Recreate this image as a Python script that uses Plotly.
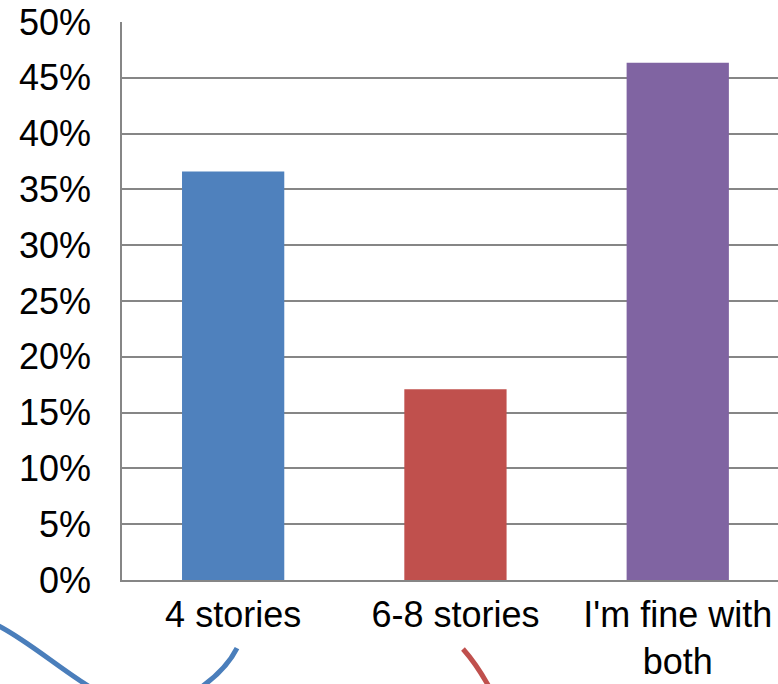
import plotly.graph_objects as go

categories = ["4 stories", "6-8 stories", "I'm fine with<br>both"]
values = [0.366, 0.171, 0.4635]
colors = ["#4F81BD", "#C0504D", "#8064A2"]

W, H = 778, 684
L, R, T, B = 122, 0, 22, 104

fig = go.Figure(go.Bar(x=categories, y=values, marker=dict(color=colors, line=dict(width=0)), width=0.46))

def px2paper(x, y):
    return (x - L) / (W - L - R), (H - B - y) / (H - T - B)

def path(segs):
    out = []
    for c, pts in segs:
        coords = []
        for (x, y) in pts:
            px, py = px2paper(x, y)
            coords.append(f"{px:.4f},{py:.4f}")
        out.append(c + " " + " ".join(coords))
    return " ".join(out)

blue = path([("M", [(-5, 624)]),
             ("C", [(40, 645), (100, 708), (145, 708)]),
             ("C", [(185, 708), (225, 672), (237, 648)])])
red = path([("M", [(463, 649)]), ("Q", [(480, 668), (496, 700)])])
fig.add_shape(type="path", path=blue, xref="paper", yref="paper", line=dict(color="#4A7EBB", width=5), layer="above")
fig.add_shape(type="path", path=red, xref="paper", yref="paper", line=dict(color="#C0504D", width=5), layer="above")

fig.update_layout(
    width=W, height=H,
    margin=dict(l=L, r=R, t=T, b=B, pad=0, autoexpand=False),
    paper_bgcolor="white", plot_bgcolor="white",
    font=dict(family="Liberation Sans, Arial", size=36, color="black"),
    showlegend=False,
    xaxis=dict(range=[-0.5, -0.5 + (W - L - R) / 222.3], showgrid=False, showline=True,
               linecolor="#868686", linewidth=1.5, ticks="", ticklabelstandoff=2,
               automargin=False, fixedrange=True),
    yaxis=dict(range=[0, 0.5], dtick=0.05, tickformat=".0%", showgrid=True, gridcolor="#868686",
               gridwidth=1.5, showline=True, linecolor="#868686", linewidth=1.5, ticks="",
               ticklabelstandoff=22, zeroline=False, automargin=False, fixedrange=True),
)

fig.write_html("out.html")
